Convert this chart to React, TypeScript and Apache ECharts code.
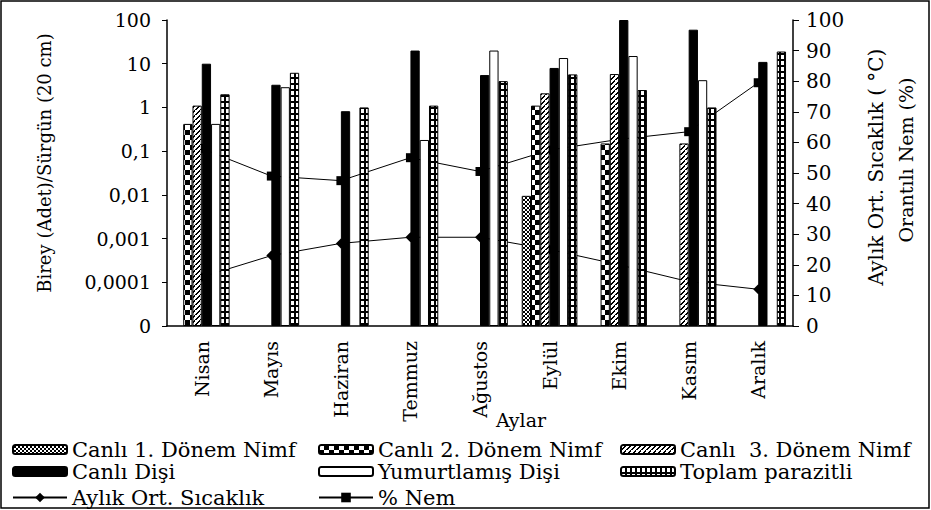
import React, { useEffect, useRef } from "react";
import * as echarts from "echarts";

const months = ["Nisan", "Mayıs", "Haziran", "Temmuz", "Ağustos", "Eylül", "Ekim", "Kasım", "Aralık"];
const nimf1 = [null, null, null, null, null, 0.0095, null, null, null];
const nimf2 = [0.42, null, null, null, null, 1.1, 0.15, null, null];
const nimf3 = [1.1, null, null, null, null, 2.1, 5.8, 0.15, null];
const canliDisi = [10, 3.3, 0.82, 20, 5.5, 8, 100, 60, 11];
const yumurtlamis = [0.42, 2.9, null, 0.18, 20, 13.5, 15, 4.2, null];
const toplam = [2, 6.2, 1, 1.1, 4, 5.7, 2.5, 1, 19];
const sicaklik = [16, 23, 27, 29, 29, 25, 20, 14.5, 12];
const nem = [58, 49, 47.5, 55, 50.5, 57.5, 61, 63.5, 79.5];

const FONT = "DejaVu Serif";

function makeCanvas(w: number, h: number, draw: (ctx: CanvasRenderingContext2D) => void) {
  const c = document.createElement("canvas");
  c.width = w;
  c.height = h;
  const ctx = c.getContext("2d")!;
  ctx.fillStyle = "#fff";
  ctx.fillRect(0, 0, w, h);
  ctx.fillStyle = "#000";
  draw(ctx);
  return { image: c, repeat: "repeat", imageWidth: w, imageHeight: h } as any;
}

export default function App() {
  const ref = useRef<HTMLDivElement>(null);
  useEffect(() => {
    if (!ref.current) return;
    const chart = echarts.init(ref.current, null, { renderer: "svg" });

    const pCross = makeCanvas(4, 4, (ctx) => {
      for (let i = 0; i < 4; i++) {
        ctx.fillRect(i, i, 1, 1);
        ctx.fillRect(3 - i, i, 1, 1);
      }
    });
    const pChecker = makeCanvas(10, 10, (ctx) => {
      ctx.fillRect(5, 0, 5, 5);
      ctx.fillRect(0, 5, 5, 5);
    });
    const pHatch = makeCanvas(5, 5, (ctx) => {
      for (let i = 0; i < 5; i++) {
        ctx.fillRect(4 - i, i, 2, 1);
      }
      ctx.fillRect(0, 4, 1, 1);
    });
    const pFilm = makeCanvas(5, 6, (ctx) => {
      ctx.fillRect(0, 0, 5, 6);
      ctx.fillStyle = "#fff";
      ctx.fillRect(1, 1, 3, 4);
    });

    const logFmt = (v: number) => {
      const e = Math.round(Math.log10(v));
      if (e <= -5) return "0";
      if (e >= 0) return String(Math.pow(10, e));
      return "0," + "0".repeat(-e - 1) + "1";
    };

    const barBase = (name: string, data: any[], color: any) => ({
      name,
      type: "bar",
      data,
      yAxisIndex: 0,
      barGap: "0%",
      barCategoryGap: "20%",
      z: 3,
      itemStyle: { color, borderColor: "#000", borderWidth: 1 },
    });

    const legendCell = (name: string, left: number, top: number, itemHeight = 9) => ({
      data: [name],
      left,
      top,
      padding: 0,
      itemWidth: 54,
      itemHeight,
      selectedMode: false,
      textStyle: { fontSize: 21, fontFamily: FONT, color: "#000" },
    });

    const option: any = {
      animation: false,
      backgroundColor: "#fff",
      textStyle: { fontFamily: FONT },
      grid: { left: 167, right: 138, top: 20, bottom: 184 },
      xAxis: {
        type: "category",
        data: months,
        axisLine: { onZero: false, lineStyle: { color: "#000", width: 1.5 } },
        axisTick: { length: 6, lineStyle: { color: "#000" } },
        axisLabel: { rotate: 90, interval: 0, margin: 15, fontSize: 19, color: "#000", fontFamily: FONT },
      },
      yAxis: [
        {
          type: "log",
          logBase: 10,
          min: 0.00001,
          max: 100,
          startValue: 0.00001,
          axisLine: { show: true, lineStyle: { color: "#000", width: 1.5 } },
          axisTick: { show: true, length: 5, lineStyle: { color: "#000" } },
          splitLine: { show: false },
          minorTick: { show: false },
          axisLabel: { formatter: logFmt, fontSize: 19, margin: 16, color: "#000", fontFamily: FONT },
        },
        {
          type: "value",
          min: 0,
          max: 100,
          interval: 10,
          position: "right",
          axisLine: { show: true, lineStyle: { color: "#000", width: 1.5 } },
          axisTick: { show: true, length: 6, lineStyle: { color: "#000" } },
          splitLine: { show: false },
          axisLabel: { fontSize: 20, margin: 13, color: "#000", fontFamily: FONT },
        },
      ],
      legend: [
        legendCell("Canlı 1. Dönem Nimf", 12, 439),
        legendCell("Canlı 2. Dönem Nimf", 318, 439),
        legendCell("Canlı  3. Dönem Nimf", 620, 439),
        legendCell("Canlı Dişi", 12, 461),
        legendCell("Yumurtlamış Dişi", 318, 461),
        legendCell("Toplam parazitli", 620, 461),
        legendCell("Aylık Ort. Sıcaklık", 12, 487, 12),
        legendCell("% Nem", 318, 487, 12),
      ],
      graphic: [
        {
          type: "rect",
          shape: { x: 1, y: 1, width: 928, height: 507 },
          style: { fill: "none", stroke: "#000", lineWidth: 1.5 },
          silent: true,
        },
        {
          type: "text",
          x: 44,
          y: 163,
          rotation: Math.PI / 2,
          style: { text: "Birey (Adet)/Sürgün (20 cm)", fontSize: 18, fontFamily: FONT, fill: "#000", align: "center", verticalAlign: "middle" },
        },
        {
          type: "text",
          x: 876,
          y: 167,
          rotation: Math.PI / 2,
          style: { text: "Aylık Ort. Sıcaklık ( °C)", fontSize: 20, fontFamily: FONT, fill: "#000", align: "center", verticalAlign: "middle" },
        },
        {
          type: "text",
          x: 906,
          y: 160,
          rotation: Math.PI / 2,
          style: { text: "Orantılı Nem (%)", fontSize: 19, fontFamily: FONT, fill: "#000", align: "center", verticalAlign: "middle" },
        },
        {
          type: "text",
          x: 521,
          y: 420,
          style: { text: "Aylar", fontSize: 19, fontFamily: FONT, fill: "#000", align: "center", verticalAlign: "middle" },
        },
      ],
      series: [
        barBase("Canlı 1. Dönem Nimf", nimf1, pCross),
        barBase("Canlı 2. Dönem Nimf", nimf2, pChecker),
        barBase("Canlı  3. Dönem Nimf", nimf3, pHatch),
        barBase("Canlı Dişi", canliDisi, "#000"),
        barBase("Yumurtlamış Dişi", yumurtlamis, "#fff"),
        barBase("Toplam parazitli", toplam, pFilm),
        {
          name: "Aylık Ort. Sıcaklık",
          type: "line",
          yAxisIndex: 1,
          data: sicaklik,
          symbol: "diamond",
          symbolSize: 10,
          z: 1,
          lineStyle: { color: "#000", width: 1 },
          itemStyle: { color: "#000" },
        },
        {
          name: "% Nem",
          type: "line",
          yAxisIndex: 1,
          data: nem,
          symbol: "rect",
          symbolSize: 9,
          z: 1,
          lineStyle: { color: "#000", width: 1 },
          itemStyle: { color: "#000" },
        },
      ],
    };
    chart.setOption(option);
    return () => chart.dispose();
  }, []);
  return (
    <div
      ref={ref}
      style={{ position: "absolute", left: 0, top: 0, width: 931, height: 510, background: "#fff" }}
    />
  );
}
